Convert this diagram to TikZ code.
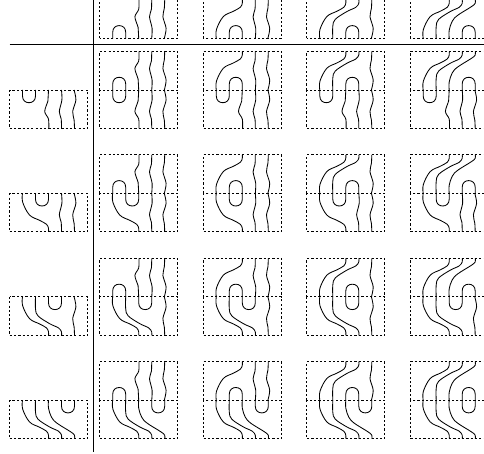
\documentclass[tikz,border=0pt]{standalone}
\usetikzlibrary{calc}
\newcommand\strandA{\draw[strand] plot[smooth,tension=.5] coordinates {(39,0)(38.7,6)(38.4,11)(35.2,21.5)(39,29)(39.3,38.5)};}
\newcommand\strandB{\draw[strand] plot[smooth,tension=.5] coordinates {(52,0)(52.4,10)(49.8,21.5)(51.7,29)(52,38.5)};}
\newcommand\strandC{\draw[strand] plot[smooth,tension=.5] coordinates {(64.6,0)(66.4,10)(63.2,21.5)(64.6,30)(65,38.5)};}
\newcommand\lineA{\draw[strand] plot[smooth,tension=.6] coordinates {(13,0)(13.2,9)(20,21.7)(30,27)(37,31)(39,35)(39,38.5)};}
\newcommand\lineB{\draw[strand] plot[smooth,tension=.6] coordinates {(26,0)(26,12)(28.5,19)(40,26.7)(49,31)(52,35)(52,38.5)};}
\newcommand\lineC{\draw[strand] plot[smooth,tension=.6] coordinates {(39,0)(39,8)(42,17)(47.5,23)(61,31.5)(65,35)(65,38.5)};}
\newcommand\cupAt[1]{\draw[strand] ($(#1,0)$) -- ($(#1,6)$) .. controls ($(#1,10.5)$) and ($(#1+3,12.7)$) .. ($(#1+6.5,12.7)$) .. controls ($(#1+10,12.7)$) and ($(#1+13,10.5)$) .. ($(#1+13,6)$) -- ($(#1+13,0)$);}
\tikzset{
  strand/.style={line width=.85pt,black},
  frame/.style={line width=.85pt,black,dash pattern=on 2.2pt off 2.1pt},
  axis/.style={line width=.95pt,black},
  tile1/.pic={\draw[frame] (0,0) rectangle (78,38.5);\cupAt{13}\strandA\strandB\strandC},
  tile2/.pic={\draw[frame] (0,0) rectangle (78,38.5);\lineA\cupAt{26}\strandB\strandC},
  tile3/.pic={\draw[frame] (0,0) rectangle (78,38.5);\lineA\lineB\cupAt{39}\strandC},
  tile4/.pic={\draw[frame] (0,0) rectangle (78,38.5);\lineA\lineB\lineC\cupAt{52}},
}
\begin{document}
\begin{tikzpicture}[x=1pt,y=-1pt]
\path[use as bounding box,clip] (0,0) rectangle (484,454);
% axes
\draw[axis] (93.3,-2) -- (93.3,451.7);
\draw[axis] (9.7,44.6) -- (486,44.6);
% header row, cut by the top edge
\foreach \c/\x in {1/99.7,2/203.3,3/306.8,4/410.2}
  \pic[yscale=-1] at (\x,38.3) {tile\c};
% rows
\foreach \r/\y in {1/90,2/193.3,3/296.9,4/400.2}{
  \pic at (9.5,\y) {tile\r};
  \foreach \c/\x in {1/99.7,2/203.3,3/306.8,4/410.2}{
    \pic[yscale=-1] at (\x,\y) {tile\c};
    \pic at (\x,\y) {tile\r};
  }
}
\end{tikzpicture}
\end{document}
